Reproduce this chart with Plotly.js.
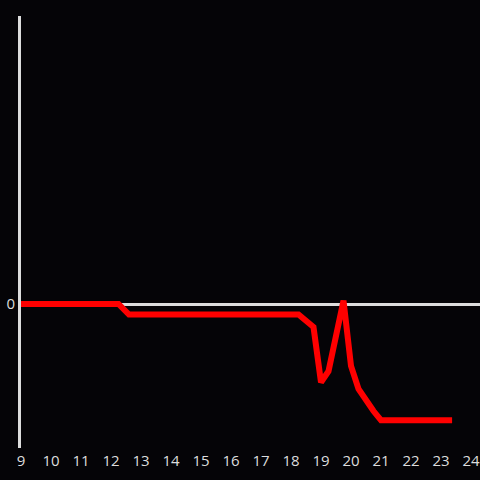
<!DOCTYPE html>
<html>
<head>
<meta charset="utf-8">
<script src="https://cdn.plot.ly/plotly-3.0.1.min.js"></script>
<style>html,body{margin:0;padding:0;background:#050407;}#chart{width:480px;height:480px;}</style>
</head>
<body>
<div id="chart"></div>
<script>
var hours = [9, 12.25, 12.6, 18.25, 18.75, 19.0, 19.25, 19.75, 20.0, 20.25, 20.75, 21.0, 23.37];
var values = [0, 0, -0.22, -0.22, -0.48, -1.63, -1.40, 0.07, -1.29, -1.77, -2.23, -2.42, -2.42];
var xTicks = [9, 10, 11, 12, 13, 14, 15, 16, 17, 18, 19, 20, 21, 22, 23, 24];

Plotly.newPlot('chart', [{
  x: hours,
  y: values,
  type: 'scatter',
  mode: 'lines',
  line: {color: '#ff0000', width: 6},
  hoverinfo: 'none'
}], {
  width: 480,
  height: 480,
  paper_bgcolor: '#050407',
  plot_bgcolor: '#050407',
  margin: {l: 21, r: 0, t: 16, b: 32},
  showlegend: false,
  font: {family: 'Open Sans', size: 15, color: '#dddddd'},
  xaxis: {
    range: [9, 24.3],
    tickvals: xTicks,
    ticktext: xTicks.map(String),
    showgrid: false,
    zeroline: false,
    showline: false,
    ticks: '',
    ticklabelstandoff: 2,
    tickfont: {size: 15, color: '#dddddd'}
  },
  yaxis: {
    range: [-3, 6],
    tickvals: [0],
    ticktext: ['0'],
    showgrid: false,
    zeroline: true,
    zerolinecolor: '#dddddd',
    zerolinewidth: 3,
    showline: true,
    linecolor: '#dddddd',
    linewidth: 3,
    ticks: '',
    tickfont: {size: 15, color: '#dddddd'}
  }
}, {displayModeBar: false, staticPlot: true});
</script>
</body>
</html>
